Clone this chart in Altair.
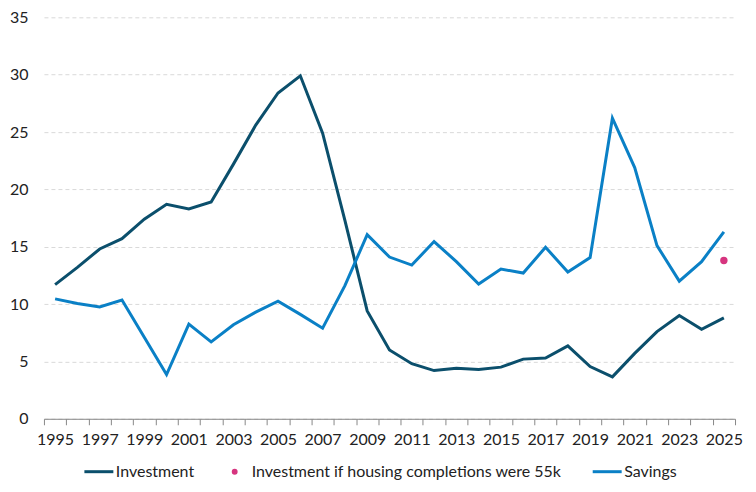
import altair as alt
import pandas as pd

years = list(range(1995, 2026))
investment = [11.7, 13.2, 14.8, 15.7, 17.4, 18.7, 18.3, 18.9, 22.2, 25.6,
              28.4, 29.9, 24.9, 17.3, 9.4, 6.0, 4.8, 4.2, 4.4, 4.3,
              4.5, 5.2, 5.3, 6.35, 4.55, 3.65, 5.7, 7.6, 9.0, 7.8, 8.8]
savings = [10.45, 10.05, 9.75, 10.35, 7.1, 3.85, 8.25, 6.7, 8.2, 9.3,
           10.25, 9.1, 7.9, 11.6, 16.05, 14.1, 13.4, 15.45, 13.7, 11.75,
           13.05, 12.7, 14.95, 12.8, 14.05, 26.2, 21.9, 15.1, 12.0, 13.7, 16.3]
dot_years = [2025]
dot_values = [13.8]

S_INV = "Investment"
S_DOT = "Investment if housing completions were 55k"
S_SAV = "Savings"
series_domain = [S_INV, S_DOT, S_SAV]
series_colors = ["#0b4f6c", "#d6347f", "#0a80c6"]
small_dot = "M0.1,0 A0.1,0.1 0 1,1 -0.1,0 A0.1,0.1 0 1,1 0.1,0 Z"
legend_shapes = ["stroke", small_dot, "stroke"]

lines_df = pd.DataFrame({
    "year": years + years,
    "value": investment + savings,
    "series": [S_INV] * len(years) + [S_SAV] * len(years),
})
dots_df = pd.DataFrame({
    "year": dot_years,
    "value": dot_values,
    "series": [S_DOT] * len(dot_years),
})

FONT = "Lato"
TXT = "#222222"
FS = 16

legend = alt.Legend(
    title=None,
    orient="none",
    legendX=39,
    legendY=439,
    direction="horizontal",
    labelFont=FONT,
    labelFontSize=FS,
    labelColor=TXT,
    labelLimit=0,
    labelOffset=1,
    columnPadding=24,
    symbolSize=841,
    symbolStrokeWidth=3,
    symbolOpacity=1,
)

color = alt.Color(
    "series:N",
    scale=alt.Scale(domain=series_domain, range=series_colors),
    legend=legend,
)
shape = alt.Shape(
    "series:N",
    scale=alt.Scale(domain=series_domain, range=legend_shapes),
    legend=legend,
)

x = alt.X(
    "year:O",
    scale=alt.Scale(type="band", paddingInner=0, paddingOuter=0, domain=years),
    axis=alt.Axis(
        title=None,
        tickBand="extent",
        labelExpr="datum.value % 2 == 1 ? datum.label : ''",
        labelAngle=0,
        labelOverlap=False,
        grid=False,
        domainColor="#888888",
        tickColor="#888888",
        tickSize=6,
        labelPadding=7,
        labelFont=FONT,
        labelFontSize=FS,
        labelColor=TXT,
    ),
)

y = alt.Y(
    "value:Q",
    scale=alt.Scale(domain=[0, 35], nice=False),
    axis=alt.Axis(
        title=None,
        values=[0, 5, 10, 15, 20, 25, 30, 35],
        domain=False,
        ticks=False,
        labelPadding=16,
        grid=True,
        gridColor="#d9d9d9",
        gridDash=[4, 3],
        gridWidth=1,
        labelFont=FONT,
        labelFontSize=FS,
        labelColor=TXT,
    ),
)

line_layer = alt.Chart(lines_df).mark_line(strokeWidth=3).encode(
    x=x, y=y, color=color, detail="series:N"
)
dot_layer = alt.Chart(dots_df).mark_circle(size=55, opacity=1, color="#d6347f").encode(
    x=x, y=y
)
legend_layer = (
    alt.Chart(dots_df)
    .transform_filter("false")
    .mark_point(filled=False, strokeWidth=3, opacity=1, size=841)
    .encode(x=x, y=y, color=color, shape=shape)
)

chart = (
    alt.layer(line_layer, dot_layer, legend_layer)
    .properties(
        width=692,
        height=402,
        padding={"top": 1, "left": 1, "right": 5, "bottom": 5},
    )
    .configure_view(stroke=None)
)

chart.save("out.html", embed_options={"renderer": "svg", "actions": False})
